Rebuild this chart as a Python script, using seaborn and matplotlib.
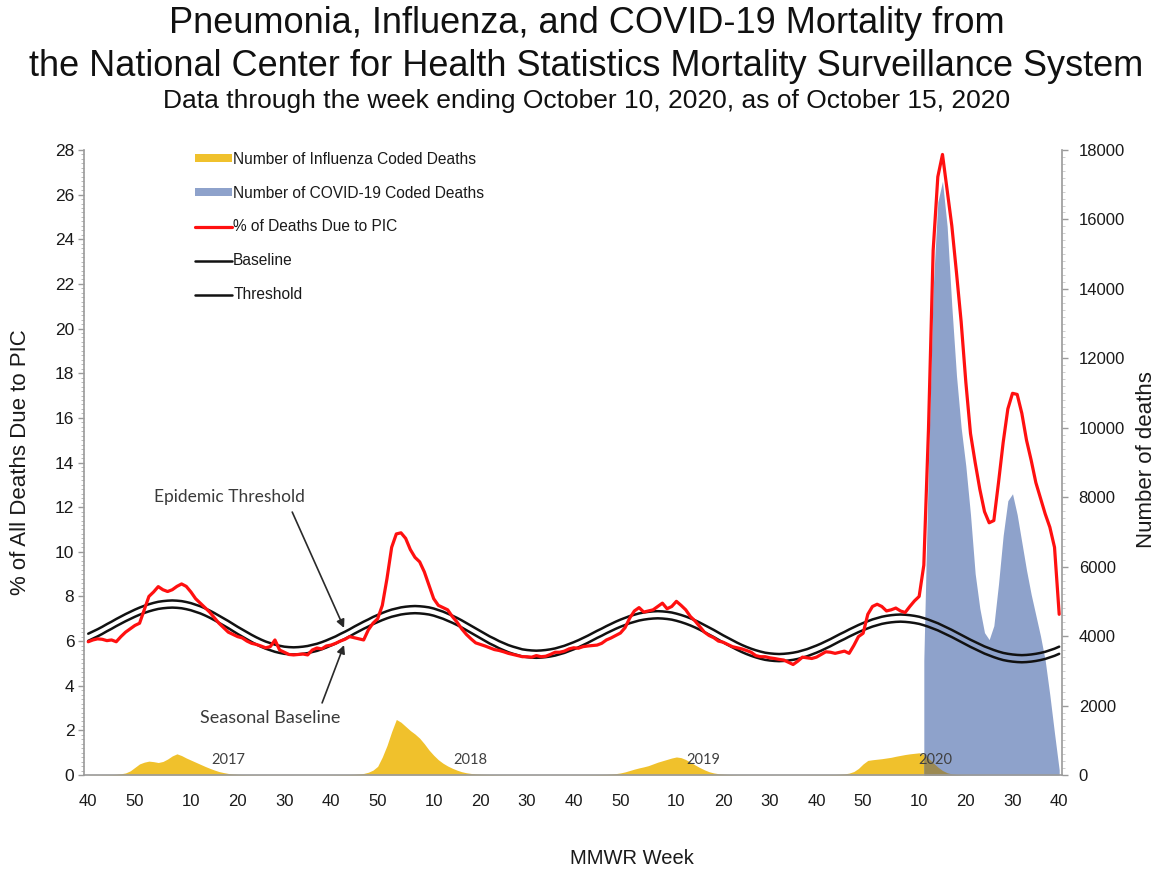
import numpy as np
import pandas as pd
import matplotlib
matplotlib.use("Agg")
import matplotlib.pyplot as plt
import seaborn as sns
from matplotlib.patches import Patch
from matplotlib.lines import Line2D
from matplotlib.ticker import MultipleLocator, FixedLocator, FixedFormatter

# ---------------- data ----------------
# MMWR weeks from 2016 week 40 to 2020 week 40
weeks = list(range(40, 53)) + list(range(1, 53)) * 3 + list(range(1, 41))

# % of all deaths due to PIC
pic = [5.97, 6.05, 6.10, 6.08, 6.02, 6.05, 5.97, 6.20, 6.40, 6.55, 6.70, 6.80, 7.40, 8.00, 8.20, 8.44, 8.30, 8.22, 8.30, 8.45,
       8.56, 8.45, 8.20, 7.90, 7.70, 7.50, 7.30, 7.05, 6.80, 6.60, 6.40, 6.30, 6.20, 6.14, 6.00, 5.90, 5.85, 5.78, 5.70, 5.75,
       6.05, 5.60, 5.50, 5.40, 5.38, 5.40, 5.42, 5.38, 5.60, 5.69, 5.65, 5.78, 5.82, 5.90, 6.00, 6.08, 6.20, 6.15, 6.10, 6.05,
       6.50, 6.80, 7.00, 7.60, 8.80, 10.20, 10.80, 10.85, 10.60, 10.10, 9.75, 9.55, 9.10, 8.50, 7.90, 7.60, 7.50, 7.40, 7.10, 6.85,
       6.55, 6.30, 6.10, 5.92, 5.85, 5.78, 5.70, 5.62, 5.58, 5.52, 5.45, 5.40, 5.35, 5.30, 5.30, 5.28, 5.35, 5.30, 5.32, 5.40,
       5.50, 5.50, 5.55, 5.65, 5.70, 5.68, 5.75, 5.78, 5.80, 5.82, 5.90, 6.05, 6.14, 6.25, 6.36, 6.60, 7.03, 7.35, 7.50, 7.30,
       7.35, 7.40, 7.55, 7.70, 7.45, 7.55, 7.78, 7.60, 7.40, 7.10, 6.90, 6.65, 6.40, 6.25, 6.15, 6.00, 5.95, 5.85, 5.75, 5.70,
       5.65, 5.58, 5.50, 5.35, 5.30, 5.30, 5.25, 5.22, 5.18, 5.15, 5.05, 4.95, 5.10, 5.28, 5.25, 5.22, 5.28, 5.40, 5.52, 5.50,
       5.45, 5.50, 5.55, 5.45, 5.80, 6.20, 6.35, 7.20, 7.55, 7.65, 7.55, 7.35, 7.40, 7.48, 7.35, 7.28, 7.55, 7.80, 8.00, 9.40,
       15.50, 23.50, 26.80, 27.80, 26.20, 24.60, 22.50, 20.30, 17.60, 15.30, 14.00, 12.80, 11.80, 11.30, 11.40, 13.10, 14.90, 16.40, 17.10, 17.05,
       16.20, 15.00, 14.10, 13.10, 12.40, 11.70, 11.10, 10.20, 7.20]

# seasonal baseline (%)
baseline = [6.01, 6.11, 6.21, 6.32, 6.44, 6.55, 6.67, 6.78, 6.89, 6.99, 7.09, 7.18, 7.26, 7.33, 7.39, 7.44, 7.47, 7.49, 7.50,
            7.49, 7.47, 7.43, 7.38, 7.31, 7.24, 7.15, 7.05, 6.94, 6.82, 6.70, 6.58, 6.45, 6.32, 6.20, 6.08, 5.96, 5.85, 5.75, 5.66, 5.59, 5.52, 5.47, 5.43, 5.41, 5.40,
            5.41, 5.43, 5.46, 5.51, 5.56, 5.63, 5.71, 5.80, 5.89, 6.00, 6.10, 6.21, 6.33, 6.44, 6.55, 6.65, 6.76, 6.85, 6.94, 7.02, 7.09, 7.14, 7.19, 7.22, 7.24, 7.25,
            7.24, 7.22, 7.19, 7.14, 7.07, 7.00, 6.91, 6.82, 6.72, 6.61, 6.49, 6.37, 6.25, 6.13, 6.01, 5.89, 5.79, 5.68, 5.59, 5.50, 5.43, 5.37, 5.31, 5.28, 5.26, 5.25,
            5.26, 5.28, 5.31, 5.35, 5.41, 5.47, 5.55, 5.63, 5.72, 5.82, 5.92, 6.03, 6.14, 6.24, 6.35, 6.45, 6.55, 6.64, 6.72, 6.80, 6.86, 6.92, 6.96, 6.99, 7.01, 7.02,
            7.01, 6.99, 6.96, 6.91, 6.85, 6.78, 6.70, 6.61, 6.51, 6.40, 6.29, 6.18, 6.06, 5.94, 5.83, 5.72, 5.61, 5.51, 5.42, 5.34, 5.27, 5.21, 5.16, 5.13, 5.11, 5.10,
            5.11, 5.13, 5.16, 5.20, 5.26, 5.32, 5.40, 5.48, 5.57, 5.67, 5.77, 5.88, 5.99, 6.09, 6.20, 6.30, 6.40, 6.49, 6.57, 6.65, 6.71, 6.77, 6.81, 6.84, 6.86, 6.87,
            6.86, 6.84, 6.81, 6.77, 6.71, 6.64, 6.56, 6.48, 6.38, 6.28, 6.18, 6.07, 5.96, 5.85, 5.74, 5.64, 5.54, 5.44, 5.36, 5.28, 5.21, 5.15, 5.11, 5.08, 5.06, 5.05,
            5.06, 5.08, 5.11, 5.15, 5.20, 5.27, 5.34, 5.43]

# epidemic threshold (%)
threshold = [6.33, 6.43, 6.53, 6.64, 6.76, 6.87, 6.99, 7.10, 7.21, 7.31, 7.41, 7.50, 7.58, 7.65, 7.71, 7.76, 7.79, 7.81, 7.82,
             7.81, 7.79, 7.75, 7.70, 7.63, 7.56, 7.47, 7.37, 7.26, 7.14, 7.02, 6.90, 6.77, 6.64, 6.52, 6.40, 6.28, 6.17, 6.07, 5.98, 5.91, 5.84, 5.79, 5.75, 5.73, 5.72,
             5.73, 5.75, 5.78, 5.83, 5.88, 5.95, 6.03, 6.12, 6.21, 6.32, 6.42, 6.53, 6.65, 6.76, 6.87, 6.97, 7.08, 7.17, 7.26, 7.34, 7.41, 7.46, 7.51, 7.54, 7.56, 7.57,
             7.56, 7.54, 7.51, 7.46, 7.39, 7.32, 7.23, 7.14, 7.04, 6.93, 6.81, 6.69, 6.57, 6.45, 6.33, 6.21, 6.11, 6.00, 5.91, 5.82, 5.75, 5.69, 5.63, 5.60, 5.58, 5.57,
             5.58, 5.60, 5.63, 5.67, 5.73, 5.79, 5.87, 5.95, 6.04, 6.14, 6.24, 6.35, 6.46, 6.56, 6.67, 6.77, 6.87, 6.96, 7.04, 7.12, 7.18, 7.24, 7.28, 7.31, 7.33, 7.34,
             7.33, 7.31, 7.28, 7.23, 7.17, 7.10, 7.02, 6.93, 6.83, 6.72, 6.61, 6.50, 6.38, 6.26, 6.15, 6.04, 5.93, 5.83, 5.74, 5.66, 5.59, 5.53, 5.48, 5.45, 5.43, 5.42,
             5.43, 5.45, 5.48, 5.52, 5.58, 5.64, 5.72, 5.80, 5.89, 5.99, 6.09, 6.20, 6.31, 6.41, 6.52, 6.62, 6.72, 6.81, 6.89, 6.97, 7.03, 7.09, 7.13, 7.16, 7.18, 7.19,
             7.18, 7.16, 7.13, 7.09, 7.03, 6.96, 6.88, 6.80, 6.70, 6.60, 6.50, 6.39, 6.28, 6.17, 6.06, 5.96, 5.86, 5.76, 5.68, 5.60, 5.53, 5.47, 5.43, 5.40, 5.38, 5.37,
             5.38, 5.40, 5.43, 5.47, 5.52, 5.59, 5.66, 5.75]

# number of influenza coded deaths
flu_deaths = [5, 5, 6, 8, 10, 12,
              20, 35, 60, 120, 220, 320, 370, 400, 385, 360, 390, 460, 550, 610, 560, 490, 430, 370, 310, 250, 195, 145, 100, 70, 45, 30, 20, 15, 12, 10,
              9, 8, 8, 7, 7, 6, 6, 6, 5, 5, 5, 5, 6, 6, 7, 8, 9, 10, 12, 13,
              15, 20, 30, 45, 80, 140, 250, 520, 850, 1250, 1600, 1520, 1400, 1280, 1180, 1060, 900, 720, 570, 440, 340, 260, 195, 140, 95, 65, 45, 32, 25, 20, 16, 13, 11, 10,
              9, 8, 8, 7, 7, 6, 6, 5, 5, 5, 6, 6, 7, 7, 8, 8, 9, 10,
              12, 14, 17, 20, 28, 40, 60, 90, 130, 170, 205, 235, 270, 320, 370, 410, 450, 490, 520, 500, 445, 370, 290, 215, 150, 95, 60, 38, 26, 18, 13, 10,
              9, 8, 7, 7, 6, 6, 6, 5, 5, 5, 5, 6, 6, 7, 8, 9, 10, 11, 12, 14,
              16, 22, 32, 55, 100, 190, 320, 420, 440, 455, 470, 490, 510, 540, 565, 590, 610, 625, 640, 600, 480, 350, 230, 130, 65, 32, 16, 9,
              6, 5, 4, 4, 3, 3, 3, 2, 2, 2, 2, 2, 2, 2, 2, 2, 2, 2, 2, 2, 1]

# number of COVID-19 coded deaths (none reported before 2020 week 11)
covid_deaths = [np.nan] * 179 + [3300, 9000, 14000, 16500, 17100, 15800, 13500, 11500, 10000, 8900,
                                 7500, 5800, 4800, 4100, 3900, 4300, 5500, 6900, 7900, 8100,
                                 7500, 6700, 5900, 5200, 4600, 4000, 3300, 2300, 1200, 150]

year_labels = ["2017", "2018", "2019", "2020"]
legend_labels = ["Number of Influenza Coded Deaths", "Number of COVID-19 Coded Deaths",
                 "% of Deaths Due to PIC", "Baseline", "Threshold"]

df = pd.DataFrame({"idx": np.arange(len(weeks)), "week": weeks, "pic": pic,
                   "baseline": baseline, "threshold": threshold,
                   "flu": flu_deaths, "covid": covid_deaths})

# ---------------- style ----------------
sns.set_theme(style="white")
plt.rcParams["font.family"] = ["Liberation Sans", "DejaVu Sans"]

FLU_C = "#F0C12C"
COVID_C = "#8EA2CB"
OVERLAP_C = "#9C8A52"
RED = "#FF1010"
GREY = "#9A9A9A"
TXT = "#1A1A1A"

fig = plt.figure(figsize=(11.59, 8.71), dpi=100)
ax = fig.add_axes([0.0725, 0.1102, 0.8438, 0.7176])
ax2 = ax.twinx()
ax.set_zorder(3)
ax.patch.set_visible(False)
ax2.set_zorder(1)

# areas on the deaths axis
ax2.fill_between(df["idx"], 0, df["flu"], color=FLU_C, linewidth=0, zorder=1)
ax2.fill_between(df["idx"], 0, df["covid"], color=COVID_C, linewidth=0, zorder=2)
ax2.fill_between(df["idx"], 0, df["flu"], where=df["covid"].notna().to_numpy(),
                 color=OVERLAP_C, linewidth=0, zorder=3)

# lines on the % axis
sns.lineplot(data=df, x="idx", y="threshold", ax=ax, color="#111111", linewidth=1.8, zorder=2)
sns.lineplot(data=df, x="idx", y="baseline", ax=ax, color="#111111", linewidth=1.8, zorder=2)
sns.lineplot(data=df, x="idx", y="pic", ax=ax, color=RED, linewidth=2.3, zorder=4)

# axes ranges
ax.set_xlim(-0.9, 208.6)
ax.set_ylim(0, 28)
ax2.set_ylim(0, 18000)

# x ticks at every 10th MMWR week
tick_pos = [k for k, w in enumerate(weeks) if w % 10 == 0]
ax.xaxis.set_major_locator(FixedLocator(tick_pos))
ax.xaxis.set_major_formatter(FixedFormatter([str(weeks[k]) for k in tick_pos]))
ax.yaxis.set_major_locator(MultipleLocator(2))
ax.yaxis.set_minor_locator(MultipleLocator(0.2))
ax2.yaxis.set_major_locator(MultipleLocator(2000))
ax2.yaxis.set_minor_locator(MultipleLocator(200))

ax.tick_params(axis="x", length=0, pad=14, labelsize=12, labelcolor=TXT)
ax.tick_params(axis="y", which="major", length=4, width=1, color=GREY, pad=3, labelsize=12.5, labelcolor=TXT, left=True)
ax.tick_params(axis="y", which="minor", length=2.5, width=0.6, color="#B0B0B0", left=True)
ax2.tick_params(axis="y", which="major", length=4, width=1, color=GREY, pad=8, labelsize=12, labelcolor=TXT, right=True)
ax2.tick_params(axis="y", which="minor", length=2.5, width=0.6, color="#C8C8C8", right=True)

for a in (ax, ax2):
    a.spines["top"].set_visible(False)
    for s in ("left", "right", "bottom"):
        a.spines[s].set_color(GREY)
        a.spines[s].set_linewidth(1.2)
ax.spines["right"].set_visible(False)
ax2.spines["left"].set_visible(False)
ax2.spines["bottom"].set_visible(False)

ax.set_xlabel("MMWR Week", fontsize=14.5, color=TXT)
ax.xaxis.set_label_coords(0.56, -0.118)
ax.set_ylabel("% of All Deaths Due to PIC", fontsize=16, color=TXT)
ax.yaxis.set_label_coords(-0.054, 0.5)
ax2.set_ylabel("Number of deaths", fontsize=16, color=TXT, rotation=90)
ax2.yaxis.set_label_coords(1.0757, 0.505)

# annotations
ann_font = dict(family=["Lato", "DejaVu Sans"], fontsize=12.5, color="#3A3A3A")
ax.text(30.2, 12.45, "Epidemic Threshold", ha="center", va="center", **ann_font)
ax.annotate("", xy=(54.8, 6.59), xytext=(43.7, 11.78),
            arrowprops=dict(arrowstyle="-|>", color="#2A2A2A", lw=1.2, mutation_scale=12, shrinkA=0, shrinkB=0))
ax.text(39.0, 2.55, "Seasonal Baseline", ha="center", va="center",
        family=["Lato", "DejaVu Sans"], fontsize=13, color="#3A3A3A")
ax.annotate("", xy=(54.8, 5.82), xytext=(50.1, 3.23),
            arrowprops=dict(arrowstyle="-|>", color="#2A2A2A", lw=1.2, mutation_scale=12, shrinkA=0, shrinkB=0))

year_pos = [30.0, 81.8, 131.7, 181.4]
for lbl, xp in zip(year_labels, year_pos):
    ax.text(xp, 0.67, lbl, ha="center", va="center", family=["Lato", "DejaVu Sans"],
            fontsize=10.5, color="#404040", zorder=6)

# legend
handles = [Patch(facecolor=FLU_C, edgecolor="none"),
           Patch(facecolor=COVID_C, edgecolor="none"),
           Line2D([], [], color=RED, lw=2.3),
           Line2D([], [], color="#111111", lw=1.8),
           Line2D([], [], color="#111111", lw=1.8)]
leg = ax.legend(handles, legend_labels, loc="upper left", bbox_to_anchor=(0.112, 1.0),
                frameon=False, fontsize=11.2, handlelength=2.35, handleheight=0.45,
                handletextpad=0.1, labelspacing=1.22, borderpad=0.1, borderaxespad=0)
for t in leg.get_texts():
    t.set_color(TXT)

# titles
fig.text(0.506, 0.9735, "Pneumonia, Influenza, and COVID-19 Mortality from",
         ha="center", va="center", fontsize=26, color="#111111")
fig.text(0.506, 0.924, "the National Center for Health Statistics Mortality Surveillance System",
         ha="center", va="center", fontsize=26, color="#111111")
fig.text(0.506, 0.884, "Data through the week ending October 10, 2020, as of October 15, 2020",
         ha="center", va="center", fontsize=19, color="#111111")

fig.savefig("out.png", dpi=100)
